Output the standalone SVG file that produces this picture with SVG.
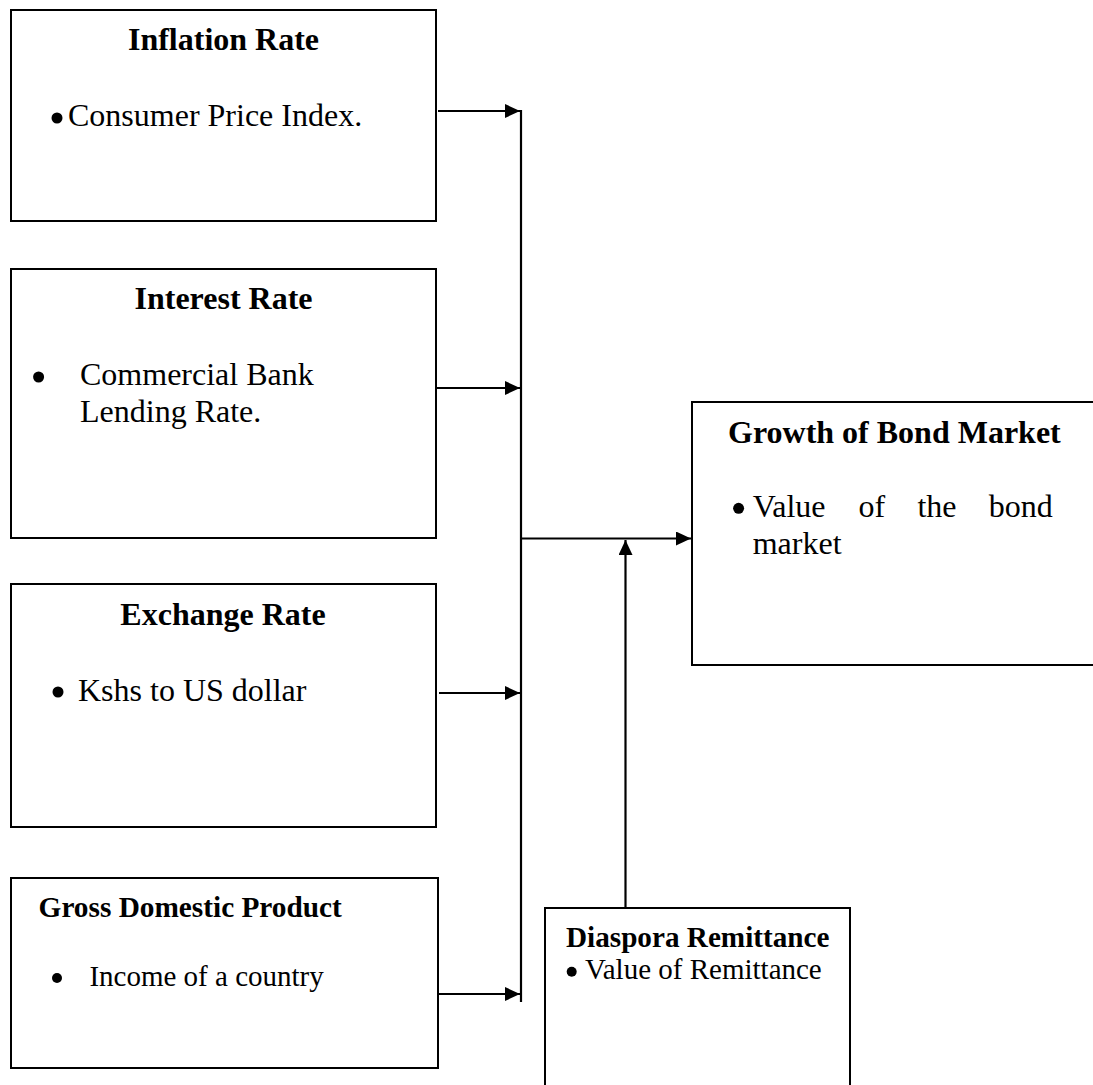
<svg xmlns="http://www.w3.org/2000/svg" width="1093" height="1085" viewBox="0 0 1093 1085">
<style>
.box{fill:#fff;stroke:#000;stroke-width:2}
.t{font-family:"Liberation Serif","Times New Roman",serif;fill:#000}
.b{font-weight:bold}
.ln{fill:none;stroke:#000;stroke-width:2.2}
</style>
<defs>
<marker id="ah" markerUnits="userSpaceOnUse" markerWidth="16" markerHeight="16" refX="15" refY="7" orient="auto">
<path d="M0,0 L15,7 L0,14 z" fill="#000"/>
</marker>
</defs>
<rect width="1093" height="1085" fill="#fff"/>
<g id="inflation">
<rect class="box" x="11" y="10" width="425" height="211"/>
<text class="t b" x="223.5" y="50" font-size="32" text-anchor="middle">Inflation Rate</text>
<circle cx="57" cy="118" r="5.5"/>
<text class="t" x="68" y="126" font-size="32">Consumer Price Index.</text>
</g>
<g id="interest">
<rect class="box" x="11" y="269" width="425" height="269"/>
<text class="t b" x="223.5" y="309" font-size="32" text-anchor="middle">Interest Rate</text>
<circle cx="38.6" cy="377" r="5.5"/>
<text class="t" x="80" y="385" font-size="32">Commercial Bank</text>
<text class="t" x="80" y="422" font-size="32">Lending Rate.</text>
</g>
<g id="exchange">
<rect class="box" x="11" y="584" width="425" height="243"/>
<text class="t b" x="223" y="625" font-size="32" text-anchor="middle">Exchange Rate</text>
<circle cx="58" cy="692" r="5.5"/>
<text class="t" x="78" y="701" font-size="32">Kshs to US dollar</text>
</g>
<g id="gdp">
<rect class="box" x="11" y="878" width="427" height="190"/>
<text class="t b" x="38.6" y="917" font-size="29.3">Gross Domestic Product</text>
<circle cx="57" cy="978" r="5"/>
<text class="t" x="89.4" y="986" font-size="29">Income of a country</text>
</g>
<g id="growth">
<rect class="box" x="692" y="402" width="420" height="263"/>
<text class="t b" x="728" y="443" font-size="32">Growth of Bond Market</text>
<circle cx="738.6" cy="508.3" r="5.5"/>
<text class="t" x="752.7" y="517" font-size="32">Value</text>
<text class="t" x="858.5" y="517" font-size="32">of</text>
<text class="t" x="917.4" y="517" font-size="32">the</text>
<text class="t" x="988.7" y="517" font-size="32">bond</text>
<text class="t" x="752.7" y="554" font-size="32">market</text>
</g>
<g id="diaspora">
<path class="box" d="M545,1095 V908 H850 V1095"/>
<text class="t b" x="566" y="947" font-size="29.2">Diaspora Remittance</text>
<circle cx="571.7" cy="971.7" r="5"/>
<text class="t" x="585" y="979" font-size="29">Value of Remittance</text>
</g>
<g id="connectors">
<line class="ln" x1="438" y1="111" x2="520" y2="111" marker-end="url(#ah)"/>
<line class="ln" x1="437" y1="388" x2="520" y2="388" marker-end="url(#ah)"/>
<line class="ln" x1="439" y1="693" x2="520" y2="693" marker-end="url(#ah)"/>
<line class="ln" x1="439" y1="994" x2="520" y2="994" marker-end="url(#ah)"/>
<line class="ln" x1="521" y1="110" x2="521" y2="1002"/>
<line class="ln" x1="521" y1="538.5" x2="691" y2="538.5" marker-end="url(#ah)"/>
<line class="ln" x1="625.5" y1="908" x2="625.5" y2="540" marker-end="url(#ah)"/>
</g>
</svg>
